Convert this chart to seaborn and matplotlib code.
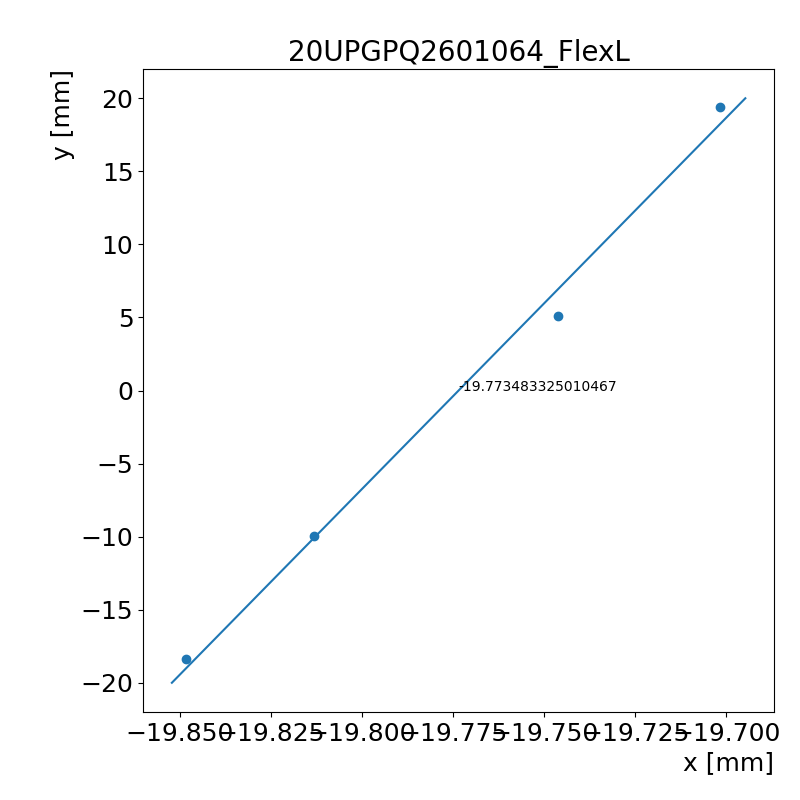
import matplotlib
matplotlib.use("Agg")
import matplotlib.pyplot as plt
import seaborn as sns
import numpy as np
import pandas as pd

title = "20UPGPQ2601064_FlexL"
point_x = [-19.8484, -19.8132, -19.7461, -19.7018]
point_y = [-18.36, -9.97, 5.13, 19.41]
fit_intercept = -19.773483325010467
fit_slope = 0.003935
line_y = [-20.0, 20.0]

line_x = [fit_intercept + fit_slope * v for v in line_y]

fig, ax = plt.subplots(figsize=(8, 8), dpi=100)
fig.subplots_adjust(left=0.179, right=0.9675, bottom=0.11, top=0.9137)

sns.lineplot(x=line_x, y=line_y, ax=ax, color="#1f77b4", sort=False, linewidth=1.5)
sns.scatterplot(x=point_x, y=point_y, ax=ax, color="#1f77b4", s=36,
                edgecolor="#1f77b4", linewidth=1.0)

ax.text(fit_intercept, 0, str(fit_intercept), fontsize=10)

ax.set_title(title, fontsize=20)
ax.set_xlabel("x [mm]", fontsize=18, loc="right")
ax.set_ylabel("y [mm]", fontsize=18, loc="top")
ax.tick_params(labelsize=18)

fig.savefig("out.png", dpi=100)
